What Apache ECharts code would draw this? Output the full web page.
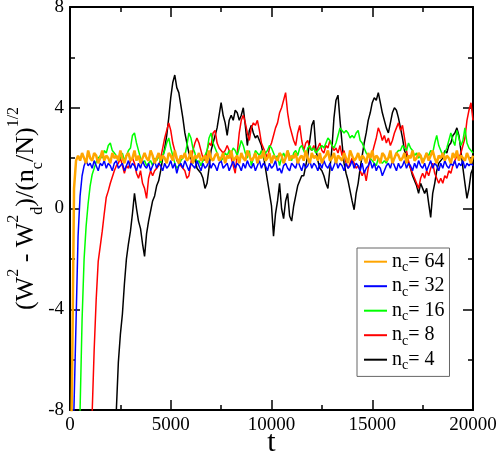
<!DOCTYPE html>
<html>
<head>
<meta charset="utf-8">
<script src="https://cdn.jsdelivr.net/npm/echarts@6/dist/echarts.min.js"></script>
<style>
html,body{margin:0;padding:0;background:#fff;}
#chart{width:498px;height:452px;}
</style>
</head>
<body>
<div id="chart"></div>
<script>
// sampling grid of t (step 100, 0..20000)
const tStep = 100;
const tCount = 201;
const xTicks = [0, 5000, 10000, 15000, 20000];
const yTicks = [-8, -4, 0, 4, 8];
const legendNames = ['64', '32', '16', '8', '4'];

const orange64 = [
-12, -7, 0.8, 1.9,
2.1, 1.9, 2.2, 2.0, 1.8, 2.3, 2.0, 1.9, 2.2, 2.1,
1.8, 2.0, 2.3, 1.9, 2.1, 2.0, 1.8, 2.2, 2.0, 2.1,
1.9, 2.3, 2.0, 1.8, 2.1, 2.2, 1.9, 2.0, 2.3, 1.9,
2.1, 1.8, 2.0, 2.2, 2.0, 1.9, 2.3, 2.1, 1.8, 2.0,
2.2, 1.9, 2.1, 2.0, 1.8, 2.2, 2.1, 1.9, 2.3, 2.0,
1.8, 2.1, 2.0, 2.2, 1.9, 2.0, 2.3, 1.8, 2.1, 2.0,
2.2, 1.9, 2.0, 2.1, 1.8, 2.3, 2.0, 1.9, 2.1, 2.2,
1.9, 2.0, 2.2, 1.8, 2.1, 2.0, 2.3, 1.9, 2.0, 2.1,
1.8, 2.2, 2.0, 1.9, 2.3, 2.1, 1.9, 2.0, 2.2, 1.8,
2.1, 2.0, 2.3, 1.9, 2.0, 2.2, 1.8, 2.1, 2.0, 1.9,
2.2, 2.1, 1.8, 2.0, 2.3, 1.9, 2.1, 2.0, 2.2, 1.8,
2.0, 2.1, 1.9, 2.3, 2.0, 1.8, 2.2, 2.0, 2.1, 1.9,
2.2, 1.8, 2.0, 2.1, 2.3, 1.9, 2.0, 2.2, 1.8, 2.1,
2.0, 1.9, 2.2, 2.0, 1.8, 2.3, 2.1, 1.9, 2.0, 2.2,
1.9, 2.1, 2.0, 1.8, 2.2, 2.0, 2.3, 1.9, 2.1, 2.0,
1.8, 2.2, 2.1, 1.9, 2.0, 2.3, 1.8, 2.0, 2.2, 2.1,
1.9, 2.0, 2.2, 1.8, 2.1, 2.0, 2.3, 1.9, 2.0, 2.2,
2.1, 1.8, 2.0, 2.2, 1.9, 2.1, 2.3, 2.0, 1.8, 2.1,
2.0, 2.2, 1.9, 2.1, 2.0, 1.8, 2.2, 2.0, 2.3, 1.9,
2.1, 2.0, 1.9, 2.2, 2.0, 1.8, 2.1
];

const blue32 = [
null, -11, -7.8, -4.5, -1.1, 0.5, 1.3, 1.7, 1.9,
1.7, 1.8, 1.6, 1.9, 1.7, 1.5, 1.8, 1.7, 1.9, 1.6,
1.8, 1.7, 1.5, 1.8, 1.9, 1.6, 1.7, 1.8, 1.5, 1.7,
1.9, 1.6, 1.8, 1.7, 1.5, 1.8, 1.6, 1.9, 1.7, 1.6,
1.8, 1.5, 1.7, 1.9, 1.6, 1.8, 1.7, 1.5, 1.8, 1.6,
1.7, 1.9, 1.6, 1.8, 1.4, 1.7, 1.8, 1.6, 1.9, 1.7,
1.5, 1.8, 1.7, 1.6, 1.9, 1.7, 1.5, 1.8, 1.6, 1.7,
1.9, 1.6, 1.8, 1.7, 1.5, 1.8, 1.9, 1.6, 1.7, 1.8,
1.5, 1.7, 1.9, 1.6, 1.8, 1.7, 1.5, 1.8, 1.6, 1.9,
1.7, 1.6, 1.8, 1.5, 1.7, 1.9, 1.6, 1.8, 1.7, 1.5,
1.8, 1.6, 1.7, 1.9, 1.5, 1.6, 1.4, 1.7, 1.8, 1.6,
1.5, 1.8, 1.7, 1.6, 1.9, 1.7, 1.5, 1.8, 1.6, 1.7,
1.9, 1.6, 1.8, 1.7, 1.5, 1.8, 1.6, 1.9, 1.7, 1.6,
1.8, 1.5, 1.7, 1.9, 1.6, 1.8, 1.7, 1.5, 1.8, 1.6,
1.7, 1.9, 1.6, 1.8, 1.7, 1.5, 1.8, 1.4, 1.6, 1.7,
1.9, 1.6, 1.8, 1.5, 1.7, 1.6, 1.3, 1.5, 1.7, 1.8,
1.6, 1.9, 1.7, 1.5, 1.8, 1.6, 1.7, 1.9, 1.6, 1.8,
1.7, 1.5, 1.8, 1.6, 1.9, 1.7, 1.6, 1.8, 1.5, 1.7,
1.9, 1.6, 1.8, 1.7, 1.5, 1.8, 1.6, 1.9, 1.7, 1.6,
1.8, 1.7, 1.9, 1.6, 1.8, 1.7, 1.9, 1.6, 1.8, 1.7,
1.8, 1.7
];

const green16 = [
null, null, null, null,
-11.5, -8.0, -4.4, -2.0, -0.7, 0.2, 0.9, 1.35, 1.6, 1.85,
2.0, 2.1, 2.0, 2.3, 2.2, 2.5, 2.6, 2.3, 2.2, 2.1,
1.9, 2.0, 2.2, 1.9, 2.1, 2.3, 2.4, 2.9, 3.0, 2.6,
2.3, 2.0, 1.8, 1.9, 1.7, 1.8, 1.9, 1.7, 2.0, 1.9,
2.1, 1.8, 2.1, 2.3, 2.6, 2.8, 2.4, 2.1, 1.8, 1.6,
1.7, 1.9, 2.0, 2.1, 2.5, 3.0, 2.8, 2.4, 2.2, 1.8,
1.9, 1.7, 1.9, 2.1, 2.3, 2.8, 3.0, 2.6, 2.4, 2.2,
2.0, 1.9, 2.0, 2.2, 2.1, 2.3, 2.2, 2.4, 2.3, 2.1,
2.4, 2.7, 2.5, 2.2, 2.0, 2.3, 1.7, 2.0, 2.3, 2.2,
2.1, 2.3, 2.0, 2.2, 2.3, 2.5, 2.4, 2.2, 2.0, 2.1,
1.7, 2.0, 2.2, 2.0, 2.3, 2.1, 1.9, 2.2, 2.3, 2.1,
2.4, 2.5, 2.3, 2.1, 2.4, 2.5, 2.3, 2.4, 2.2, 2.3,
2.4, 2.5, 2.4, 2.6, 2.8, 2.7, 2.5, 2.4, 2.6, 2.9,
3.2, 3.1, 3.0, 3.1, 3.0, 2.8, 2.9, 2.8, 3.0, 3.1,
2.7, 2.6, 2.4, 2.2, 2.1, 2.0, 1.9, 1.8, 1.7, 2.0,
1.9, 1.8, 1.9, 1.8, 2.0, 2.1, 1.9, 2.0, 2.2, 2.3,
2.3, 2.5, 2.4, 2.3, 2.6, 2.4, 2.3, 2.1, 2.2, 2.0,
2.1, 1.9, 2.0, 2.2, 2.1, 2.3, 2.2, 2.6, 2.9, 2.5,
2.3, 2.1, 2.2, 2.4, 2.7, 3.0, 2.7, 2.5, 3.1, 2.8,
2.5, 2.7, 3.2, 2.6, 2.4, 2.3, 2.2
];

const red8 = [
null, null, null, null, null, null, null, null, null, null,
-10.5, -8.1, -5.6, -3.6, -2.1, -1.5, -0.9, -0.2, 0.45, 0.7, 1.0, 1.25, 1.5,
1.7, 1.8, 2.0, 1.7, 1.4, 1.7, 1.6, 1.9, 2.0, 1.8,
1.4, 1.2, 1.5, 1.0, 0.8, 0.4, 1.2, 1.5, 1.3, 1.5,
1.6, 1.7, 2.0, 2.4, 2.8, 3.1, 3.4, 3.1, 2.6, 2.3,
1.9, 1.8, 1.7, 1.6, 1.5, 1.2, 1.3, 1.8, 2.3, 2.6,
2.8, 2.6, 2.3, 2.0, 1.9, 2.3, 2.6, 2.5, 3.0, 3.1,
2.6, 2.4, 2.3, 2.2, 2.3, 2.5, 2.3, 2.0, 1.7, 1.4,
2.2, 3.0, 3.5, 3.7, 3.4, 3.0, 2.7, 3.2, 3.4, 3.3,
3.5, 3.1, 2.6, 2.4, 2.2, 2.0, 2.4, 2.6, 2.9, 3.2,
3.4, 3.8, 4.0, 4.3, 4.6, 3.8, 3.3, 3.0, 2.7, 2.5,
3.0, 3.3, 2.7, 2.3, 2.6, 2.7, 2.4, 2.3, 2.5, 2.2,
2.4, 2.6, 2.3, 2.2, 2.5, 2.4, 2.7, 2.5, 2.3, 2.4,
2.2, 2.5, 2.1, 2.3, 1.8, 1.6, 1.8, 2.0, 1.8, 1.6,
1.7, 1.5, 1.3, 1.5, 1.1, 1.6, 2.0, 2.2, 2.5, 2.8,
3.2, 3.0, 2.7, 2.9, 2.6, 2.8, 2.5, 2.7, 3.0, 3.2,
3.4, 3.1, 3.3, 2.8, 2.3, 1.9, 1.6, 1.4, 1.2, 1.0,
0.8, 1.2, 1.4, 1.2, 1.5, 1.3, 1.6, 1.8, 1.4, 1.2,
1.0, 1.2, 1.0, 1.3, 1.2, 1.5, 1.4, 1.7, 1.9, 2.1,
2.0, 2.2, 2.5, 2.8, 3.5, 3.9, 4.2, 3.5
];

const black4 = [
null, null, null, null, null, null, null, null, null, null,
null, null, null, null, null, null, null, null, null, null,
null, null, -10,
-8.0, -6.1, -5.0, -4.2, -3.0, -2.0, -1.4, -0.9, -0.2, 0.6,
0.0, -0.5, -0.8, -1.4, -1.9, -1.0, -0.5, -0.1, 0.3, 0.5,
0.9, 1.1, 1.5, 2.0, 2.4, 2.9, 3.6, 4.4, 5.0, 5.3,
4.8, 4.6, 4.1, 3.6, 3.0, 2.6, 2.2, 2.0, 1.8, 2.0,
1.6, 1.5, 1.4, 1.2, 0.8, 1.0, 1.6, 2.3, 2.6, 2.9,
3.2, 3.7, 4.2, 3.7, 3.4, 2.9, 3.5, 3.7, 3.5, 3.9,
3.8, 3.5, 3.7, 4.0, 3.3, 2.5, 3.1, 3.3, 3.0, 2.8,
2.9, 2.7, 2.5, 2.1, 1.6, 1.1, 0.6, 0.1, -1.1, -0.2,
0.3, 1.0, 0.0, -0.4, 0.3, 0.6, -0.3, -0.5, 0.1, 0.5,
0.9, 1.1, 1.3, 1.3, 1.7, 2.1, 2.7, 3.3, 3.5, 2.4,
1.9, 1.6, 1.5, 1.3, 1.0, 0.8, 1.6, 2.4, 3.6, 4.3,
4.5, 3.5, 2.6, 1.8, 1.4, 1.1, 0.7, 0.3, -0.05, 0.6,
1.0, 1.6, 2.1, 2.6, 3.0, 3.5, 3.8, 4.2, 4.4, 4.3,
4.6, 4.2, 3.8, 3.5, 3.2, 3.0, 3.4, 3.8, 4.0, 3.9,
3.6, 3.2, 2.8, 2.3, 2.1, 1.8, 1.6, 1.3, 1.1, 0.9,
0.6, 1.0, 0.8, 0.6, 0.8, 0.2, -0.35, 0.6, 1.0, 1.5,
1.8, 1.9, 2.0, 2.3, 2.2, 2.5, 2.6, 2.9, 3.0, 3.2,
2.9, 2.3, 1.6, 1.0, 0.4, 0.8, 1.4, 1.6
];

const tValues = Array.from({length: tCount}, (_, i) => i * tStep);
const toPairs = vals => vals.map((v, i) => [tValues[i], v]);

const FONT = 'Liberation Serif, Times New Roman, DejaVu Serif, serif';
const chart = echarts.init(document.getElementById('chart'), null, {renderer: 'canvas'});

function mkX(pos, showLabel) {
  return {
    type: 'value', position: pos, min: xTicks[0], max: xTicks[xTicks.length-1],
    interval: xTicks[1] - xTicks[0],
    axisLine: {show: true, onZero: false, lineStyle: {color: '#000', width: 2}},
    axisTick: {show: true, inside: true, length: 10, lineStyle: {color: '#000', width: 1.5}},
    minorTick: {show: true, splitNumber: 2, length: 5, lineStyle: {color: '#000', width: 1.5}},
    splitLine: {show: false},
    axisLabel: {show: showLabel, color: '#000', fontFamily: FONT, fontSize: 19, margin: 6,
      formatter: v => String(v)},
    name: showLabel ? 't' : '', nameLocation: 'middle', nameGap: 18, nameMoveOverlap: false,
    nameTextStyle: {color: '#000', fontFamily: FONT, fontSize: 30}
  };
}
function mkY(pos, showLabel) {
  return {
    type: 'value', position: pos, min: yTicks[0], max: yTicks[yTicks.length-1],
    interval: yTicks[1] - yTicks[0],
    axisLine: {show: true, onZero: false, lineStyle: {color: '#000', width: 2}},
    axisTick: {show: true, inside: true, length: 10, lineStyle: {color: '#000', width: 1.5}},
    minorTick: {show: true, splitNumber: 2, length: 5, lineStyle: {color: '#000', width: 1.5}},
    splitLine: {show: false},
    axisLabel: {show: showLabel, color: '#000', fontFamily: FONT, fontSize: 19, margin: 6,
      formatter: v => String(v)},
    name: showLabel ? '{m|(W}{sp|2}{m| - W}{sp|2}{sb|d}{m|)/(n}{sb|c}{m|/N)}{sp|1/2}' : '',
    nameLocation: 'middle', nameGap: 24, nameRotate: 90, nameMoveOverlap: false,
    nameTextStyle: {
      color: '#000', fontFamily: FONT, fontSize: 26,
      rich: {
        m: {fontFamily: FONT, fontSize: 26, lineHeight: 40, color: '#000'},
        sp: {fontFamily: FONT, fontSize: 16, lineHeight: 18, verticalAlign: 'top', color: '#000'},
        sb: {fontFamily: FONT, fontSize: 16, lineHeight: 18, verticalAlign: 'bottom', color: '#000'}
      }
    }
  };
}

const colors = {'64': '#FFA500', '32': '#0000FF', '16': '#00FF00', '8': '#FF0000', '4': '#000000'};
const seriesVals = {'4': black4, '8': red8, '16': green16, '32': blue32, '64': orange64};
const drawOrder = ['4', '8', '16', '32', '64'];

const option = {
  animation: false,
  backgroundColor: '#fff',
  textStyle: {fontFamily: FONT},
  grid: {left: 70, right: 25, top: 7, bottom: 42, containLabel: false, outerBoundsMode: 'none'},
  xAxis: [mkX('bottom', true), mkX('top', false)],
  yAxis: [mkY('left', true), mkY('right', false)],
  legend: {
    data: legendNames, orient: 'vertical', left: 357, top: 248,
    backgroundColor: '#fff', borderColor: '#666', borderWidth: 1,
    padding: [3.7, 5, 3.7, 7], itemGap: 1.5, itemTextGap: 12,
    icon: 'rect', itemWidth: 23, itemHeight: 2,
    formatter: name => '{n|n}{c|c}{n|= ' + name + '}',
    textStyle: {
      color: '#000', fontFamily: FONT,
      rich: {
        n: {fontFamily: FONT, fontSize: 20, lineHeight: 26, color: '#000'},
        c: {fontFamily: FONT, fontSize: 14, lineHeight: 12, verticalAlign: 'bottom', color: '#000'}
      }
    }
  },
  series: drawOrder.map(k => ({
    name: k, type: 'line', xAxisIndex: 0, yAxisIndex: 0,
    data: toPairs(seriesVals[k]), showSymbol: false, symbol: 'none',
    clip: true, connectNulls: false,
    lineStyle: {color: colors[k], width: k === '64' ? 2.5 : 1.5},
    itemStyle: {color: colors[k]}
  }))
};
chart.setOption(option);
</script>
</body>
</html>
